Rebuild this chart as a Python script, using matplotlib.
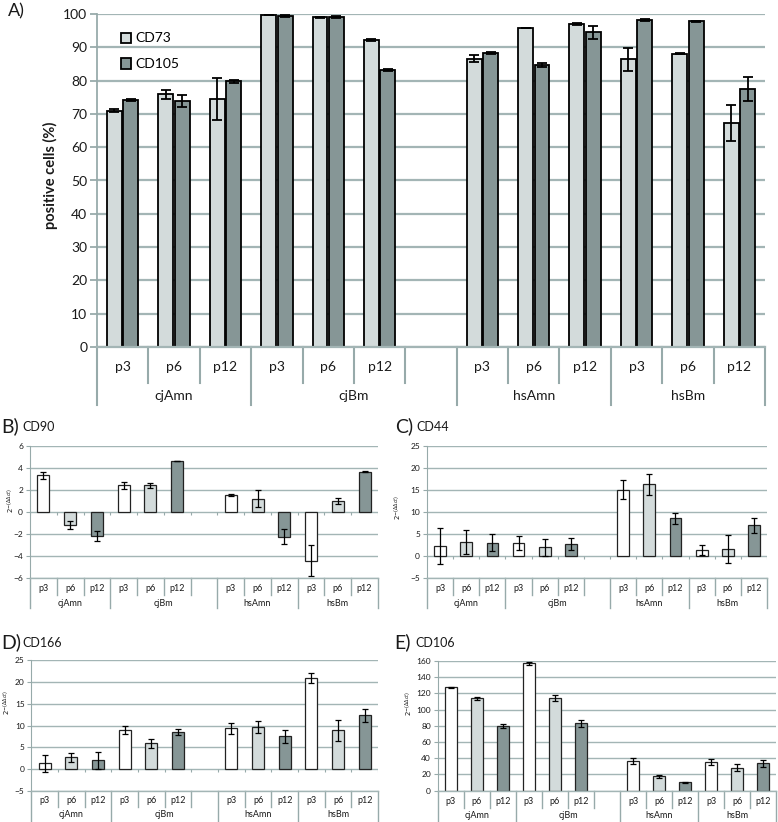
import matplotlib.pyplot as plt
import matplotlib.transforms as mtransforms

plt.rcParams['font.family'] = ['Lato', 'DejaVu Sans']

# ---- data ----
groups = ['cjAmn', 'cjBm', 'hsAmn', 'hsBm']
passages = ['p3', 'p6', 'p12']

# A) flow cytometry, % positive cells
cd73 = [71.0, 75.9, 74.5, 99.8, 99.0, 92.2, 86.6, 95.8, 96.9, 86.4, 88.1, 67.3]
cd73_err = [0.5, 1.4, 6.3, 0.1, 0.1, 0.2, 1.1, 0.1, 0.3, 3.5, 0.2, 5.3]
cd105 = [74.3, 73.9, 79.8, 99.4, 99.1, 83.3, 88.4, 84.7, 94.5, 98.2, 97.8, 77.5]
cd105_err = [0.3, 1.8, 0.4, 0.4, 0.2, 0.3, 0.3, 0.5, 1.9, 0.2, 0.1, 3.6]

# B-E) qPCR, 2^-(ddct)
cd90 = [3.3, -1.2, -2.2, 2.4, 2.4, 4.6, 1.5, 1.2, -2.25, -4.45, 1.0, 3.65]
cd90_err = [0.35, 0.4, 0.45, 0.3, 0.2, 0.03, 0.1, 0.8, 0.65, 1.4, 0.25, 0.03]
cd44 = [2.2, 3.2, 3.0, 2.9, 1.9, 2.6, 15.0, 16.2, 8.5, 1.3, 1.6, 6.9]
cd44_err = [4.0, 2.7, 2.0, 1.5, 2.0, 1.4, 2.2, 2.3, 1.25, 1.2, 3.2, 1.7]
cd166 = [1.3, 2.7, 2.0, 8.9, 5.9, 8.5, 9.4, 9.6, 7.5, 20.9, 8.9, 12.3]
cd166_err = [1.85, 1.1, 1.85, 0.95, 1.1, 0.7, 1.25, 1.4, 1.55, 1.15, 2.35, 1.5]
cd106 = [127.5, 113.9, 79.8, 157.1, 114.0, 83.0, 36.6, 17.7, 10.3, 35.4, 28.4, 33.7]
cd106_err = [1.0, 1.5, 3.0, 2.0, 3.5, 3.9, 3.7, 1.5, 0.8, 3.7, 4.7, 4.0]

# slot positions: cjBm group carries an empty 4th slot
slot_x = [0, 1, 2, 3, 4, 5, 7, 8, 9, 10, 11, 12]
group_spans = [(0, 2), (3, 6), (7, 9), (10, 12)]

light = '#d3dbdb'
dark = '#869696'
gridc = '#a3b5b5'
linec = '#97aaaa'
txtc = '#1a1a1a'

W, H = 778, 822
fig = plt.figure(figsize=(W / 100, H / 100), dpi=100)


def make_axes(left, top, right, bottom):
    return fig.add_axes([left / W, 1 - bottom / H, (right - left) / W, (bottom - top) / H])


def style_axes(ax, ylim, yticks, fs, glw, ticklen):
    ax.set_xlim(-0.5, 12.5)
    ax.set_ylim(*ylim)
    ax.set_yticks(yticks)
    ax.set_xticks([])
    ax.yaxis.grid(True, color=gridc, lw=glw)
    ax.set_axisbelow(True)
    for s in ['top', 'right']:
        ax.spines[s].set_visible(False)
    ax.spines['left'].set_color(linec)
    ax.spines['bottom'].set_color(gridc)
    ax.spines['left'].set_linewidth(glw * 0.8)
    ax.spines['bottom'].set_linewidth(glw)
    ax.tick_params(axis='y', colors=linec, labelcolor=txtc, labelsize=fs,
                   length=ticklen, width=glw * 0.8, pad=2)


def category_axis(ax, p_y, g_y, short_bot, long_bot, fs_p, fs_g, lw):
    trans = mtransforms.blended_transform_factory(ax.transData, fig.transFigure)
    y0 = ax.get_position().y0
    long_b = [-0.5, 2.5, 6.5, 9.5, 12.5]
    for i in range(14):
        b = i - 0.5
        bot = long_bot if b in long_b else short_bot
        ax.plot([b, b], [y0, 1 - bot / H], transform=trans, color=linec,
                lw=lw, clip_on=False)
    for i, x in enumerate(slot_x):
        ax.text(x, 1 - p_y / H, passages[i % 3], transform=trans, ha='center',
                va='center', fontsize=fs_p, color=txtc)
    for g, (a, b) in zip(groups, group_spans):
        ax.text((a + b) / 2, 1 - g_y / H, g, transform=trans, ha='center',
                va='center', fontsize=fs_g, color=txtc)


# ---- A) ----
axA = make_axes(97, 14, 765, 347)
style_axes(axA, (0, 100), range(0, 101, 10), 10, 1.6, 5)
xa = [x - 0.16 for x in slot_x]
xb = [x + 0.16 for x in slot_x]
ekw = dict(ecolor='black', elinewidth=1.3, capsize=3.5, capthick=1.3)
axA.bar(xa, cd73, 0.29, yerr=cd73_err, color=light, edgecolor='black', lw=1.3,
        error_kw=ekw, label='CD73')
axA.bar(xb, cd105, 0.29, yerr=cd105_err, color=dark, edgecolor='black', lw=1.3,
        error_kw=ekw, label='CD105')
axA.legend(loc='upper left', bbox_to_anchor=(108 / W, 1 - 20 / H),
           bbox_transform=fig.transFigure, frameon=False, fontsize=10,
           handlelength=0.75, handleheight=0.75, handletextpad=0.3,
           labelspacing=1.0)
category_axis(axA, 367, 396, 383, 405, 10, 10, 1.5)
fig.text(50 / W, 1 - 175 / H, 'positive cells (%)', rotation=90, ha='center',
         va='center', fontsize=10.5, fontweight='bold', color=txtc)
fig.text(8 / W, 1 - 11 / H, 'A)', fontsize=13, va='center', color=txtc)

# ---- B-E) ----
ylab = r'$2^{-(\Delta\Delta ct)}$'
pcolors = ['white', light, dark] * 4
sekw = dict(ecolor='black', elinewidth=0.9, capsize=2, capthick=0.9)

panels = [
    ('B)', 'CD90', cd90, cd90_err, (30, 445.7, 378, 578), (-6, 6), range(-6, 7, 2),
     (588, 603, 595, 608), (1, 426), (10, 500)),
    ('C)', 'CD44', cd44, cd44_err, (427, 445.7, 767, 577.7), (-5, 25), range(-5, 26, 5),
     (588, 603, 595, 608), (395, 426), (398, 507)),
    ('D)', 'CD166', cd166, cd166_err, (31.5, 660, 378, 791), (-5, 25), range(-5, 26, 5),
     (800, 814, 807, 822), (1, 642), (7, 702)),
    ('E)', 'CD106', cd106, cd106_err, (438, 661, 776, 790.7), (0, 160), range(0, 161, 20),
     (801, 815, 808, 822), (394, 642), (409, 703)),
]

for tag, name, vals, errs, rect, ylim, yt, cat, tpos, lpos in panels:
    ax = make_axes(*rect)
    style_axes(ax, ylim, yt, 6, 1.0, 3)
    ax.bar(slot_x, vals, 0.45, yerr=errs, color=pcolors, edgecolor='#222222',
           lw=0.9, error_kw=sekw)
    if ylim[0] < 0:
        # small ticks on the zero line
        px = (ylim[1] - ylim[0]) / ((rect[3] - rect[1]))
        ax.vlines([i - 0.5 for i in range(14)], -3 * px, 0, color=linec, lw=0.8)
    category_axis(ax, cat[0], cat[1], cat[2], cat[3], 6.5, 6.5, 1.0)
    fig.text(tpos[0] / W, 1 - tpos[1] / H, tag, fontsize=14, va='center', color=txtc)
    fig.text((tpos[0] + 21) / W, 1 - (tpos[1] + 1) / H, name, fontsize=9,
             va='center', color=txtc)
    fig.text(lpos[0] / W, 1 - lpos[1] / H, ylab, rotation=90, ha='center',
             va='center', fontsize=5, color=txtc)

fig.savefig('out.png', dpi=100)
